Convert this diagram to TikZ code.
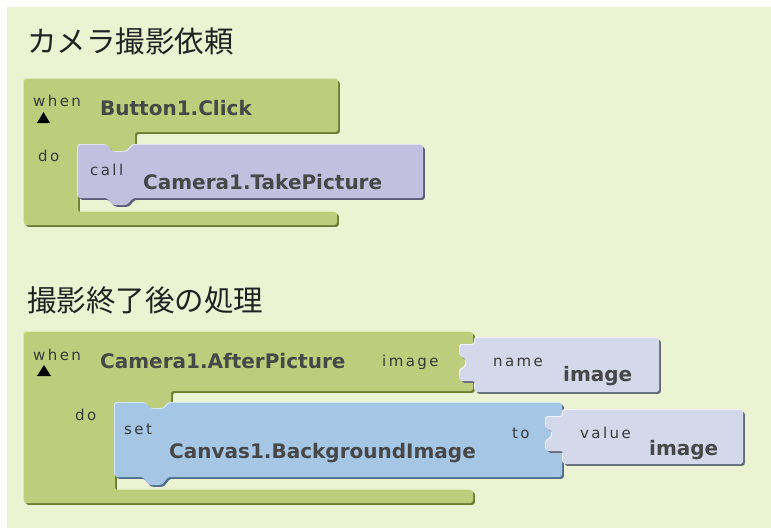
\documentclass[tikz,border=0pt]{standalone}
\usepackage{fontspec}
\setmainfont{DejaVu Sans}
\newfontfamily\jpfont{Noto Sans CJK JP}
\newfontfamily\lblfont[LetterSpace=16]{DejaVu Sans}
\definecolor{bgc}{HTML}{ECF3D3}
\definecolor{grn}{HTML}{BDCD7C}
\definecolor{grnD}{HTML}{6C7C34}
\definecolor{grnL}{HTML}{DDE9B0}
\definecolor{pur}{HTML}{C3BFDE}
\definecolor{purD}{HTML}{5E5A7A}
\definecolor{purL}{HTML}{E4E2F2}
\definecolor{blu}{HTML}{A6C6E6}
\definecolor{bluD}{HTML}{4E6E8E}
\definecolor{bluL}{HTML}{D6E6F6}
\definecolor{lav}{HTML}{D3D9EA}
\definecolor{lavD}{HTML}{656978}
\definecolor{lavL}{HTML}{F0F2F9}
\definecolor{txt}{HTML}{474747}
\definecolor{lbltxt}{HTML}{383838}
\definecolor{ttl}{HTML}{222222}
\tikzset{
  rc/.style={rounded corners=2.5pt},
  lbl/.style={anchor=base west, inner sep=0pt, text=lbltxt, font=\lblfont\fontsize{15}{15}\selectfont},
  big/.style={anchor=base west, inner sep=0pt, text=txt, font=\bfseries\fontsize{20}{20}\selectfont},
  ttlstyle/.style={anchor=west, inner sep=0pt, text=ttl, font=\jpfont\fontsize{29.5}{30}\selectfont},
}
\newcommand\bevel[4]{% path, main, dark, light
  \fill[#4, rc, shift={(-1,-1)}] #1;
  \fill[#3, rc, shift={(1.8,1.8)}] #1;
  \fill[#2, rc] #1;
}
\def\pGreenA{(24,79) -- (338,79) -- (338,132) -- (135,132) -- (135,156) -- (78,156) -- (78,212) -- (337,212) -- (337,225) -- (24,225) -- cycle}
\def\pPurA{(78,145) -- (107,145) -- (113,152) -- (127,152) -- (133,145) -- (423,145) -- (423,198) -- (133,198) -- (127,205) -- (113,205) -- (107,198) -- (78,198) -- cycle}
\def\pGreenB{(24,332) -- (473,332) -- (473,391) -- (171,391) -- (171,413) -- (115,413) -- (115,490) -- (473,490) -- (473,503) -- (24,503) -- cycle}
\def\pBlue{(115,403) -- (146,403) -- (151,409) -- (164,409) -- (169,403) -- (562,403) -- (562,477) -- (168,477) -- (162,485) -- (149,485) -- (143,477) -- (115,477) -- cycle}
\def\pName{(475,338) -- (475,345) -- (460,345) -- (460,356) -- (466,359) -- (466,367) -- (460,370) -- (460,381) -- (475,381) -- (475,392) -- (659,392) -- (659,338) -- cycle}
\def\pValue{(563,410) -- (563,417) -- (546,417) -- (546,428) -- (552,431) -- (552,438) -- (546,441) -- (546,451) -- (563,451) -- (563,464) -- (743,464) -- (743,410) -- cycle}
\begin{document}
\begin{tikzpicture}[x=1pt,y=-1pt]
\useasboundingbox (0,0) rectangle (771,528);
\fill[white] (0,0) rectangle (771,528);
\fill[bgc] (7,7) rectangle (771,528);

% titles
\node[ttlstyle] (t1) at (27,41.5) {カメラ撮影依頼};
\node[ttlstyle] (t2) at (27,300) {撮影終了後の処理};

% block 1
\bevel{\pGreenA}{grn}{grnD}{grnL}
\bevel{\pPurA}{pur}{purD}{purL}
\fill[black] (37,123) -- (50,123) -- (43.5,112) -- cycle;
\node[lbl] (when1) at (33,106) {when};
\node[big] (btn) at (100,115) {Button1.Click};
\node[lbl] (do1) at (38,161) {do};
\node[lbl] (call) at (90,175) {call};
\node[big] (take) at (143,189) {Camera1.TakePicture};

% block 2
\bevel{\pGreenB}{grn}{grnD}{grnL}
\bevel{\pBlue}{blu}{bluD}{bluL}
\bevel{\pName}{lav}{lavD}{lavL}
\bevel{\pValue}{lav}{lavD}{lavL}
\fill[black] (37,376) -- (51,376) -- (44,365) -- cycle;
\node[lbl] (when2) at (33,360) {when};
\node[big] (after) at (100,368) {Camera1.AfterPicture};
\node[lbl] (img) at (382,366) {image};
\node[lbl] (name) at (493,366) {name};
\node[big] (nameval) at (563,381) {image};
\node[lbl] (do2) at (75,420) {do};
\node[lbl] (set) at (124,434) {set};
\node[big] (canvas) at (169,458) {Canvas1.BackgroundImage};
\node[lbl] (to) at (512,438) {to};
\node[lbl] (value) at (580,438) {value};
\node[big] (valimg) at (649,455) {image};
\end{tikzpicture}
\end{document}
